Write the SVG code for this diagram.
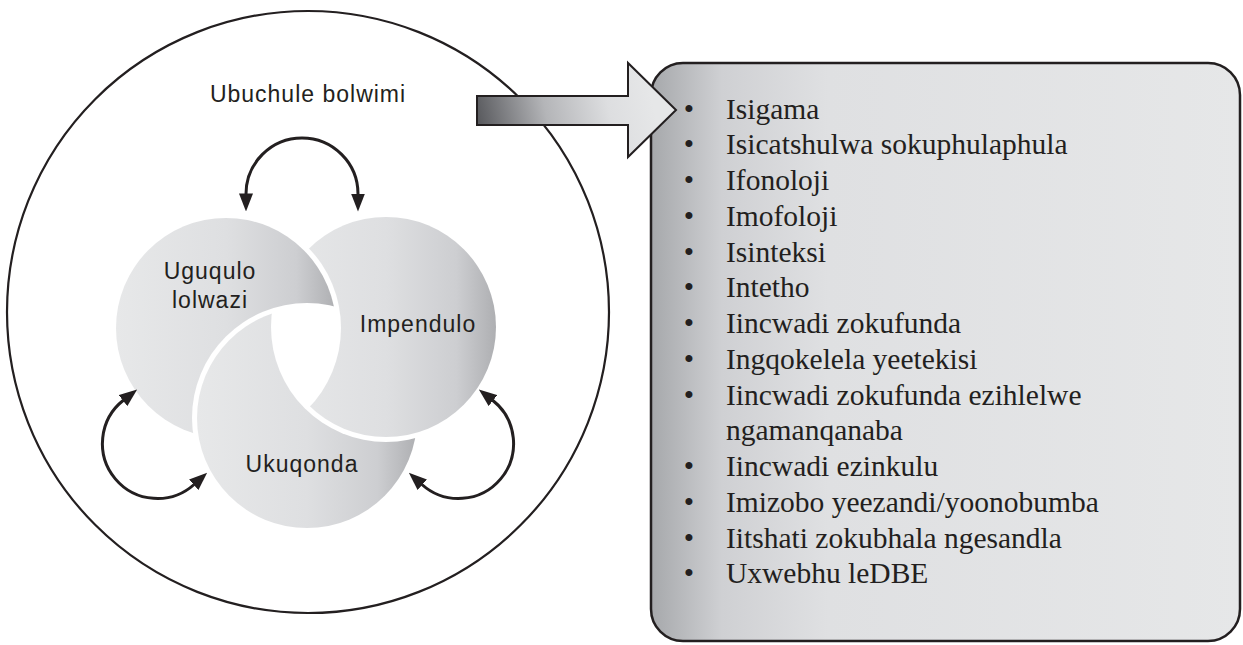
<svg xmlns="http://www.w3.org/2000/svg" width="1243" height="645" viewBox="0 0 1243 645">
<defs>
<style>
.lbl{font-family:"Liberation Sans",Arial,sans-serif;font-size:23px;fill:#231f20;letter-spacing:1px}
.lst{font-family:"Liberation Serif","Times New Roman",serif;font-size:29.5px;fill:#231f20}
.conn{fill:none;stroke:#231f20;stroke-width:3;marker-start:url(#ah);marker-end:url(#ah)}
.disc{fill:url(#gc)}
.outline{fill:none;stroke:#231f20;stroke-width:2.2}
</style>
<linearGradient id="gc" x1="0" y1="0" x2="1" y2="0">
<stop offset="0" stop-color="#e7e8e9"/><stop offset="0.5" stop-color="#dedfe1"/><stop offset="0.82" stop-color="#cdced1"/><stop offset="1" stop-color="#aeafb2"/>
</linearGradient>
<linearGradient id="gr" x1="0" y1="0" x2="1" y2="0">
<stop offset="0" stop-color="#a6a8ab"/><stop offset="0.12" stop-color="#cfd0d3"/><stop offset="0.3" stop-color="#dfe0e2"/><stop offset="1" stop-color="#e6e7e8"/>
</linearGradient>
<linearGradient id="ga" gradientUnits="userSpaceOnUse" x1="477" y1="130" x2="650" y2="90">
<stop offset="0" stop-color="#55565a"/><stop offset="0.4" stop-color="#b4b5b8"/><stop offset="0.75" stop-color="#dddee0"/><stop offset="1" stop-color="#e6e7e8"/>
</linearGradient>
<mask id="mA" maskUnits="userSpaceOnUse" x="0" y="0" width="1243" height="645"><rect width="1243" height="645" fill="#fff"/><circle cx="307" cy="418" r="115" fill="#000"/></mask>
<mask id="mB" maskUnits="userSpaceOnUse" x="0" y="0" width="1243" height="645"><rect width="1243" height="645" fill="#fff"/><circle cx="226" cy="328" r="115" fill="#000"/></mask>
<mask id="mC" maskUnits="userSpaceOnUse" x="0" y="0" width="1243" height="645"><rect width="1243" height="645" fill="#fff"/><circle cx="386" cy="327" r="115" fill="#000"/></mask>
<marker id="ah" markerUnits="userSpaceOnUse" markerWidth="18" markerHeight="14" viewBox="0 0 18 14" refX="0.5" refY="7" orient="auto-start-reverse"><path d="M0,0 L18,7 L0,14 Z" fill="#231f20"/></marker>
</defs>
<rect width="1243" height="645" fill="#fff"/>
<g id="node-skills">
<circle class="outline" cx="308" cy="312" r="301"/>
<text class="lbl" x="308" y="102" text-anchor="middle">Ubuchule bolwimi</text>
</g>
<g id="node-uguqulo">
<circle class="disc" cx="226" cy="328" r="110" mask="url(#mA)"/>
<text class="lbl" x="210" y="279" text-anchor="middle">Uguqulo</text>
<text class="lbl" x="210" y="308" text-anchor="middle">lolwazi</text>
</g>
<g id="node-impendulo">
<circle class="disc" cx="386" cy="327" r="110" mask="url(#mB)"/>
<text class="lbl" x="418" y="332" text-anchor="middle">Impendulo</text>
</g>
<g id="node-ukuqonda">
<circle class="disc" cx="307" cy="418" r="110" mask="url(#mC)"/>
<text class="lbl" x="302" y="472" text-anchor="middle">Ukuqonda</text>
</g>
<g id="node-list">
<rect x="651" y="63" width="589" height="578" rx="32" fill="url(#gr)" stroke="#231f20" stroke-width="2.5"/>
<g class="lst">
<text x="689" y="118.5" text-anchor="middle">•</text><text x="726" y="118.5">Isigama</text>
<text x="689" y="154.3" text-anchor="middle">•</text><text x="726" y="154.3">Isicatshulwa sokuphulaphula</text>
<text x="689" y="190" text-anchor="middle">•</text><text x="726" y="190">Ifonoloji</text>
<text x="689" y="225.8" text-anchor="middle">•</text><text x="726" y="225.8">Imofoloji</text>
<text x="689" y="261.5" text-anchor="middle">•</text><text x="726" y="261.5">Isinteksi</text>
<text x="689" y="297.3" text-anchor="middle">•</text><text x="726" y="297.3">Intetho</text>
<text x="689" y="333" text-anchor="middle">•</text><text x="726" y="333">Iincwadi zokufunda</text>
<text x="689" y="368.8" text-anchor="middle">•</text><text x="726" y="368.8">Ingqokelela yeetekisi</text>
<text x="689" y="404.5" text-anchor="middle">•</text><text x="726" y="404.5">Iincwadi zokufunda ezihlelwe</text>
<text x="726" y="440.3">ngamanqanaba</text>
<text x="689" y="476" text-anchor="middle">•</text><text x="726" y="476">Iincwadi ezinkulu</text>
<text x="689" y="511.8" text-anchor="middle">•</text><text x="726" y="511.8">Imizobo yeezandi/yoonobumba</text>
<text x="689" y="547.5" text-anchor="middle">•</text><text x="726" y="547.5">Iitshati zokubhala ngesandla</text>
<text x="689" y="583.3" text-anchor="middle">•</text><text x="726" y="583.3">Uxwebhu leDBE</text>
</g>
</g>
<g id="connectors">
<path class="conn" d="M246,194 A56,56 0 0 1 358,194"/>
<path class="conn" d="M123.4,400.3 A55,55 0 1 0 194.1,484.5"/>
<path class="conn" d="M492.6,400.3 A55,55 0 1 1 421.9,484.5"/>
<path d="M477,96 L628,96 L628,63 L676,110 L628,157 L628,125 L477,125 Z" fill="url(#ga)" stroke="#231f20" stroke-width="2"/>
</g>
</svg>
